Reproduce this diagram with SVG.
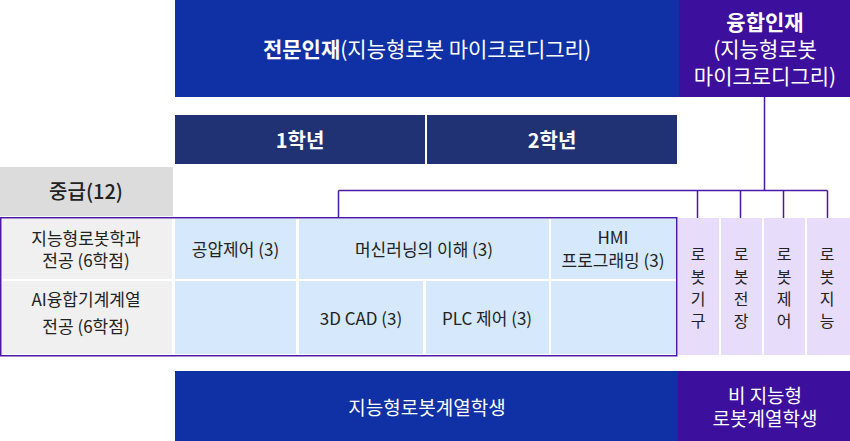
<svg xmlns="http://www.w3.org/2000/svg" width="850" height="441" viewBox="0 0 850 441">
<style>
text{font-family:"Noto Sans CJK KR","Noto Sans",sans-serif;text-anchor:middle;dominant-baseline:central}
.w{fill:#ffffff}
.d{fill:#222222}
.blue{fill:#0f31a5}
.purple{fill:#3c0f9c}
.year{fill:#213274}
.cell{fill:#d5e8fc}
.lab{fill:#f0f0f0}
.vc{fill:#e8dcfb}
.t{font-size:17px}
.v{font-size:16px}
.conn{stroke:#4a1aa6;stroke-width:1.5;fill:none}
</style>
<rect width="850" height="441" fill="#ffffff"/>
<g id="top-specialist">
<rect class="blue" x="175" y="0" width="504" height="97"/>
<text class="w" x="427" y="48" font-size="21"><tspan font-weight="bold">전문인재</tspan>(지능형로봇 마이크로디그리)</text>
</g>
<g id="top-convergence">
<rect class="purple" x="679" y="0" width="171" height="97"/>
<text class="w" font-size="21"><tspan x="765" y="21" font-weight="bold">융합인재</tspan><tspan x="765" y="48">(지능형로봇</tspan><tspan x="765" y="75">마이크로디그리)</tspan></text>
</g>
<g id="year1">
<rect class="year" x="175" y="115" width="250" height="49"/>
<text class="w" x="300" y="139" font-size="20" font-weight="bold">1학년</text>
</g>
<g id="year2">
<rect class="year" x="427" y="115" width="250" height="49"/>
<text class="w" x="552" y="139" font-size="20" font-weight="bold">2학년</text>
</g>
<g id="level">
<rect x="0" y="167" width="173" height="49" fill="#dcdcdc"/>
<text class="d" x="86" y="190" font-size="20" font-weight="500">중급(12)</text>
</g>
<g id="table">
<rect x="0.75" y="217.75" width="676" height="138" fill="#ffffff" stroke="#4a1aa6" stroke-width="1.5"/>
<g id="label-robot">
<rect class="lab" x="2" y="219" width="170" height="60"/>
<text class="d t"><tspan x="86" y="237">지능형로봇학과</tspan><tspan x="86" y="259">전공 (6학점)</tspan></text>
</g>
<g id="label-ai">
<rect class="lab" x="2" y="281" width="170" height="73"/>
<text class="d t"><tspan x="86" y="298">AI융합기계계열</tspan><tspan x="86" y="325">전공 (6학점)</tspan></text>
</g>
<g id="c-pneumatic">
<rect class="cell" x="175" y="219" width="121" height="60"/>
<text class="d t" x="235.5" y="248">공압제어 (3)</text>
</g>
<g id="c-ml">
<rect class="cell" x="299" y="219" width="250" height="60"/>
<text class="d t" x="424" y="248">머신러닝의 이해 (3)</text>
</g>
<g id="c-hmi">
<rect class="cell" x="551" y="219" width="125" height="60"/>
<text class="d t"><tspan x="613" y="236">HMI</tspan><tspan x="613" y="259">프로그래밍 (3)</tspan></text>
</g>
<rect class="cell" x="175" y="281" width="121" height="73"/>
<g id="c-3dcad">
<rect class="cell" x="299" y="281" width="124" height="73"/>
<text class="d t" x="361" y="317">3D CAD (3)</text>
</g>
<g id="c-plc">
<rect class="cell" x="426" y="281" width="123" height="73"/>
<text class="d t" x="487" y="317">PLC 제어 (3)</text>
</g>
<rect class="cell" x="551" y="281" width="125" height="73"/>
</g>
<g id="v-mech">
<rect class="vc" x="678" y="218" width="41" height="137"/>
<text class="d v"><tspan x="698" y="253">로</tspan><tspan x="698" y="276">봇</tspan><tspan x="698" y="298">기</tspan><tspan x="698" y="320">구</tspan></text>
</g>
<g id="v-elec">
<rect class="vc" x="721" y="218" width="41" height="137"/>
<text class="d v"><tspan x="741" y="253">로</tspan><tspan x="741" y="276">봇</tspan><tspan x="741" y="298">전</tspan><tspan x="741" y="320">장</tspan></text>
</g>
<g id="v-ctrl">
<rect class="vc" x="764" y="218" width="41" height="137"/>
<text class="d v"><tspan x="784" y="253">로</tspan><tspan x="784" y="276">봇</tspan><tspan x="784" y="298">제</tspan><tspan x="784" y="320">어</tspan></text>
</g>
<g id="v-intel">
<rect class="vc" x="807" y="218" width="43" height="137"/>
<text class="d v"><tspan x="827" y="253">로</tspan><tspan x="827" y="276">봇</tspan><tspan x="827" y="298">지</tspan><tspan x="827" y="320">능</tspan></text>
</g>
<g id="connectors">
<path class="conn" d="M764.5 97V190.5M338.5 190.5H827.5M338.5 190.5V217M697.5 190.5V218M740.5 190.5V218M783.5 190.5V218M827.5 190.5V218"/>
</g>
<g id="bottom-robot">
<rect class="blue" x="175" y="371" width="503" height="70"/>
<text class="w" x="427" y="406" font-size="19">지능형로봇계열학생</text>
</g>
<g id="bottom-nonrobot">
<rect class="purple" x="678" y="371" width="172" height="70"/>
<text class="w" font-size="19"><tspan x="765" y="394">비 지능형</tspan><tspan x="765" y="417">로봇계열학생</tspan></text>
</g>
</svg>
